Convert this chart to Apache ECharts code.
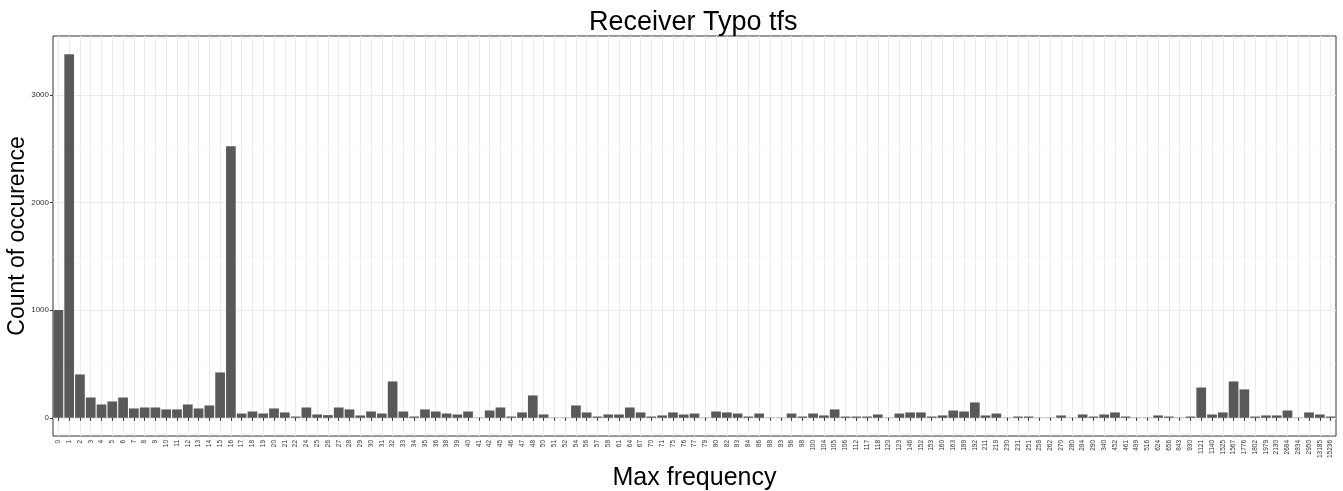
<!DOCTYPE html>
<html>
<head>
<meta charset="utf-8">
<script src="https://cdn.jsdelivr.net/npm/echarts@6/dist/echarts.min.js"></script>
<style>
  html, body { margin: 0; padding: 0; background: #fff; }
  #chart { width: 1343px; height: 491px; }
</style>
</head>
<body>
<div id="chart"></div>
<script>
// categories (Max frequency)
const categories = ['0','1','2','3','4','5','6','7','8','9','10','11','12','13','14','15','16','17','18','19',
  '20','21','22','24','25','26','27','28','29','30','31','32','33','34','35','36','38','39','40','41',
  '42','45','46','47','48','50','51','52','54','56','57','58','61','64','67','70','71','75','76','77',
  '79','80','82','83','84','86','88','93','96','98','100','104','105','106','112','117','118','120','123','146',
  '152','153','160','163','189','192','211','219','230','231','251','258','262','270','280','284','290','340','452','461',
  '499','516','624','656','843','930','1121','1140','1525','1567','1776','1802','1979','2130','2684','2834','2950','13185','15236'];

// count of occurence
const counts = [1003,3380,403,189,124,152,189,87,96,96,78,78,124,87,115,422,2525,40,59,40,
  87,50,12,96,31,25,96,78,22,59,40,338,59,12,78,59,40,31,59,3,
  68,96,12,50,208,31,3,3,115,50,12,31,31,96,50,12,22,50,31,40,
  3,59,50,40,12,40,3,3,40,12,40,22,78,12,12,12,31,3,40,50,
  50,12,22,68,59,143,22,40,3,12,12,3,3,22,3,31,12,31,50,12,
  3,3,22,12,3,12,282,31,50,338,264,12,22,22,68,3,50,31,12];

const yTicks = [0, 1000, 2000, 3000];
const yMinor = [500, 1500, 2500];
const yMin = -169, yMax = 3549;

const chart = echarts.init(document.getElementById('chart'), null, { renderer: 'canvas' });

const option = {
  animation: false,
  // title centred over the panel, not the whole canvas
  title: {
    text: 'Receiver Typo tfs',
    left: 584,
    top: 4,
    textStyle: { fontFamily: 'Liberation Sans', fontSize: 27, fontWeight: 'normal', color: '#000' }
  },
  grid: {
    left: 53, right: 7, top: 36, bottom: 55,
    outerBoundsMode: 'none', containLabel: false,
    show: true, borderColor: '#333', borderWidth: 1
  },
  xAxis: {
    type: 'category',
    data: categories,
    name: 'Max frequency',
    nameLocation: 'middle',
    nameGap: 30,
    nameMoveOverlap: false,
    nameTextStyle: { fontFamily: 'Liberation Sans', fontSize: 25, color: '#000' },
    axisLine: { show: false },
    axisTick: { show: true, alignWithLabel: true, interval: 0, length: 3, lineStyle: { color: '#333' } },
    axisLabel: { interval: 0, rotate: 90, fontSize: 6.5, margin: 4, color: '#333', fontFamily: 'Liberation Sans' },
    splitLine: { show: true, interval: 0, alignWithLabel: true, lineStyle: { color: '#ebebeb', width: 1 } }
  },
  yAxis: [
    {
      type: 'value',
      min: yMin,
      max: yMax,
      name: 'Count of occurence',
      nameLocation: 'middle',
      nameGap: 24,
      nameMoveOverlap: false,
      nameTextStyle: { fontFamily: 'Liberation Sans', fontSize: 23, color: '#000' },
      axisLine: { show: false },
      axisTick: { show: true, customValues: yTicks, length: 3, lineStyle: { color: '#333' } },
      axisLabel: {
        customValues: yTicks, fontSize: 8, margin: 4, color: '#333', fontFamily: 'Liberation Sans',
        formatter: v => String(v)
      },
      splitLine: { show: true, lineStyle: { color: '#ebebeb', width: 1 } }
    },
    {
      // minor grid lines only
      type: 'value',
      min: yMin,
      max: yMax,
      position: 'left',
      axisLine: { show: false },
      axisTick: { show: false, customValues: yMinor },
      axisLabel: { show: false, customValues: yMinor },
      splitLine: { show: true, lineStyle: { color: '#f4f4f4', width: 0.6 } }
    }
  ],
  series: [
    {
      type: 'bar',
      data: counts,
      barCategoryGap: '10%',
      itemStyle: { color: '#595959' }
    }
  ]
};

chart.setOption(option);
</script>
</body>
</html>
